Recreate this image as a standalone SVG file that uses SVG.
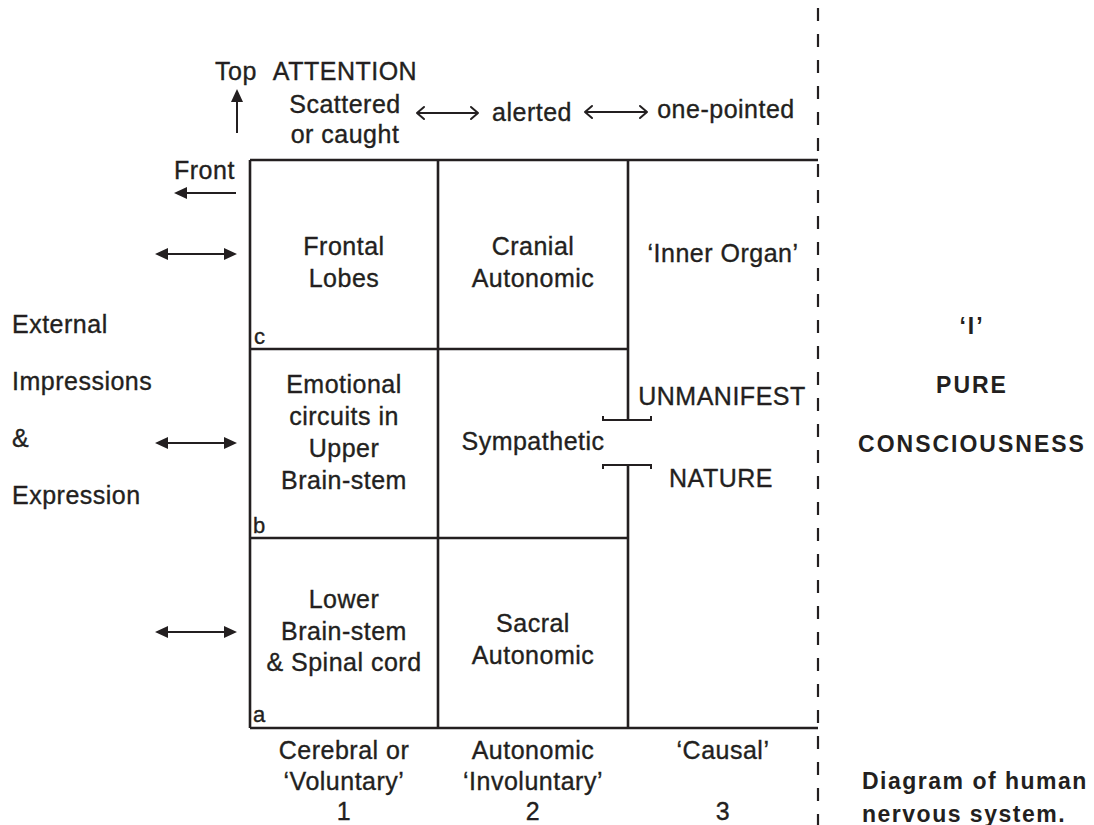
<svg xmlns="http://www.w3.org/2000/svg" width="1094" height="825" viewBox="0 0 1094 825">
<style>
text{font-family:"Liberation Sans",Arial,sans-serif;font-size:25px;fill:#231f20;stroke:#231f20;stroke-width:0.35px;letter-spacing:0.5px}
.m{text-anchor:middle}
.s{font-size:22px}
.r{font-family:"Liberation Sans",Arial,sans-serif;font-weight:bold;font-size:23px;letter-spacing:2px;stroke-width:0}
.c{letter-spacing:1.5px}
.g{stroke:#231f20;stroke-width:2.6;fill:none}
.t{stroke:#231f20;stroke-width:2;fill:none}
.o{stroke:#231f20;stroke-width:2;fill:none;stroke-linecap:round;stroke-linejoin:round}
.d{stroke:#231f20;stroke-width:2.2;fill:none;stroke-dasharray:13 13}
.h{fill:#231f20}
</style>
<rect width="1094" height="825" fill="#fff"/>
<g id="connectors">
  <path class="g" d="M250,160 H818 M250,160 V728 M250,728 H818 M438,160 V728 M250,349 H628 M250,538 H628 M628,160 V420 M628,465 V728"/>
  <path class="t" d="M603,416 V420 H651 V416"/>
  <path class="t" d="M603,469 V465 H651 V469"/>
  <path class="d" d="M818,8 V825"/>
  <path class="t" d="M237,133 V100"/>
  <path class="h" d="M237,89 L231,102 L243,102 Z"/>
  <path class="t" d="M236,193 H186"/>
  <path class="h" d="M174,193 L187,187 L187,199 Z"/>
  <g id="arrow-c">
    <path class="t" d="M166,254 H226"/>
    <path class="h" d="M155,254 L168,248 L168,260 Z M237,254 L224,248 L224,260 Z"/>
  </g>
  <g id="arrow-b">
    <path class="t" d="M166,443 H226"/>
    <path class="h" d="M155,443 L168,437 L168,449 Z M237,443 L224,437 L224,449 Z"/>
  </g>
  <g id="arrow-a">
    <path class="t" d="M166,632 H226"/>
    <path class="h" d="M155,632 L168,626 L168,638 Z M237,632 L224,626 L224,638 Z"/>
  </g>
  <path class="o" d="M417,113 H478 M424,107 L417,113 L424,119 M471,107 L478,113 L471,119"/>
  <path class="o" d="M585,112 H647 M592,106 L585,112 L592,118 M640,106 L647,112 L640,118"/>
</g>
<g id="axis-labels">
  <text class="m" x="236" y="80">Top</text>
  <text x="174" y="179">Front</text>
</g>
<g id="attention">
  <text class="m" x="345" y="80">ATTENTION</text>
  <text class="m" x="345" y="113">Scattered</text>
  <text class="m" x="345" y="143">or caught</text>
  <text class="m" x="532" y="121">alerted</text>
  <text class="m" x="726" y="118">one-pointed</text>
</g>
<g id="external">
  <text x="12" y="333">External</text>
  <text x="12" y="390">Impressions</text>
  <text x="12" y="447">&amp;</text>
  <text x="12" y="504">Expression</text>
</g>
<g id="node-frontal">
  <text class="m" x="344" y="255">Frontal</text>
  <text class="m" x="344" y="287">Lobes</text>
  <text x="254" y="344" class="s">c</text>
</g>
<g id="node-cranial">
  <text class="m" x="533" y="255">Cranial</text>
  <text class="m" x="533" y="287">Autonomic</text>
</g>
<g id="node-inner-organ">
  <text class="m" x="723" y="262">‘Inner Organ’</text>
</g>
<g id="node-emotional">
  <text class="m" x="344" y="393">Emotional</text>
  <text class="m" x="344" y="425">circuits in</text>
  <text class="m" x="344" y="457">Upper</text>
  <text class="m" x="344" y="489">Brain-stem</text>
  <text x="253" y="533" class="s">b</text>
</g>
<g id="node-sympathetic">
  <text class="m" x="533" y="450">Sympathetic</text>
</g>
<g id="node-unmanifest">
  <text class="m" x="722" y="405">UNMANIFEST</text>
  <text class="m" x="721" y="487">NATURE</text>
</g>
<g id="node-lower">
  <text class="m" x="344" y="608">Lower</text>
  <text class="m" x="344" y="640">Brain-stem</text>
  <text class="m" x="344" y="671">&amp; Spinal cord</text>
  <text x="253" y="722" class="s">a</text>
</g>
<g id="node-sacral">
  <text class="m" x="533" y="632">Sacral</text>
  <text class="m" x="533" y="664">Autonomic</text>
</g>
<g id="columns">
  <text class="m" x="344" y="759">Cerebral or</text>
  <text class="m" x="344" y="790">‘Voluntary’</text>
  <text class="m" x="344" y="820">1</text>
  <text class="m" x="533" y="759">Autonomic</text>
  <text class="m" x="533" y="790">‘Involuntary’</text>
  <text class="m" x="533" y="820">2</text>
  <text class="m" x="723" y="759">‘Causal’</text>
  <text class="m" x="723" y="820">3</text>
</g>
<g id="node-consciousness">
  <text class="m r" x="972" y="334">‘I’</text>
  <text class="m r" x="972" y="393">PURE</text>
  <text class="m r" x="972" y="452">CONSCIOUSNESS</text>
</g>
<g id="caption">
  <text class="r c" x="862" y="789">Diagram of human</text>
  <text class="r c" x="862" y="822">nervous system.</text>
</g>
</svg>
